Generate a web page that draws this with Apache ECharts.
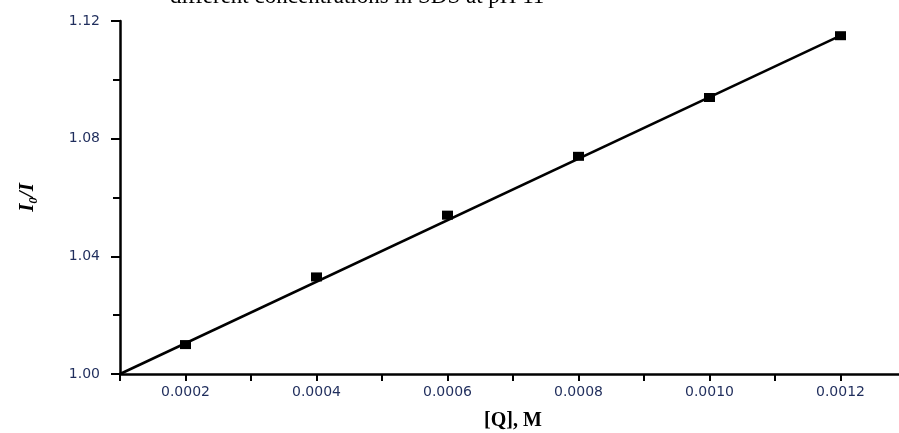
<!DOCTYPE html>
<html lang="en">
<head>
    <meta charset="UTF-8">
    <title>I0/I vs [Q]</title>
    <script src="https://cdn.jsdelivr.net/npm/echarts@6/dist/echarts.min.js"></script>
    <style>
        html, body { margin: 0; padding: 0; background: #fff; }
        #chart { width: 899px; height: 433px; }
    </style>
</head>
<body>
    <div id="chart"></div>
    <script>
        // measured points
        var concQ = [0.0002, 0.0004, 0.0006, 0.0008, 0.0010, 0.0012];
        var ratioI = [1.010, 1.033, 1.054, 1.074, 1.094, 1.115];
        // fitted line ends
        var fitX = [0.0001, 0.0012];
        var fitY = [1.000, 1.115];

        var titleText = "different concentrations in SDS at pH 11";
        var tickColor = "#1f2d5c";

        var chart = echarts.init(document.getElementById("chart"));

        var pts = concQ.map(function (x, i) { return [x, ratioI[i]]; });
        var fit = fitX.map(function (x, i) { return [x, fitY[i]]; });

        var option = {
            animation: false,
            graphic: [{
                type: "text",
                left: 170,
                top: -15,
                style: {
                    text: titleText,
                    font: "23px 'Liberation Serif', 'Times New Roman', serif",
                    fill: "#000"
                }
            }],
            // axis runs on past the right edge, as in the source
            grid: { left: 120, right: -7, top: 21, bottom: 59, outerBoundsMode: "none", containLabel: false },
            xAxis: [{
                type: "value",
                position: "bottom",
                min: 0.0001,
                max: 0.0013,
                interval: 0.0001,
                name: "[Q], M",
                nameLocation: "middle",
                nameGap: 37,
                nameTextStyle: {
                    fontFamily: "Liberation Serif",
                    fontWeight: "bold",
                    fontSize: 20,
                    color: "#000"
                },
                axisLine: { lineStyle: { color: "#000", width: 2.5 } },
                axisTick: {
                    length: 7,
                    lineStyle: { color: "#000", width: 2 },
                    interval: function (idx, val) {
                        return Math.round(val * 10000) % 2 === 0;
                    }
                },
                axisLabel: {
                    margin: 11,
                    fontFamily: "DejaVu Sans",
                    fontSize: 14,
                    color: tickColor,
                    formatter: function (v) {
                        var n = Math.round(v * 10000);
                        if (n % 2 !== 0 || n > 12) return "";
                        return (n / 10000).toFixed(4);
                    }
                },
                splitLine: { show: false }
            }, {
                // short minor ticks
                type: "value",
                position: "bottom",
                min: 0.0001,
                max: 0.0013,
                interval: 0.0001,
                axisLine: { show: false },
                axisTick: { length: 3, lineStyle: { color: "#000", width: 2 } },
                axisLabel: { show: false },
                splitLine: { show: false }
            }],
            yAxis: {
                type: "value",
                min: 1.00,
                max: 1.12,
                interval: 0.04,
                name: "{a|I}{b|0}{a|/I}",
                nameLocation: "middle",
                nameRotate: 90,
                nameGap: 80,
                nameTextStyle: {
                    rich: {
                        a: {
                            fontFamily: "Liberation Serif",
                            fontWeight: "bold",
                            fontStyle: "italic",
                            fontSize: 21,
                            color: "#000"
                        },
                        b: {
                            fontFamily: "Liberation Serif",
                            fontWeight: "bold",
                            fontStyle: "italic",
                            fontSize: 13,
                            color: "#000",
                            verticalAlign: "bottom",
                            padding: [12, 0, 0, 0]
                        }
                    }
                },
                axisLine: { show: true, lineStyle: { color: "#000", width: 2.5 } },
                axisTick: { length: 9, lineStyle: { color: "#000", width: 2 } },
                minorTick: { show: true, splitNumber: 2, length: 7, lineStyle: { color: "#000", width: 2 } },
                axisLabel: {
                    margin: 20,
                    fontFamily: "DejaVu Sans",
                    fontSize: 14,
                    color: tickColor,
                    formatter: function (v) { return v.toFixed(2); }
                },
                splitLine: { show: false }
            },
            series: [{
                type: "line",
                data: fit,
                symbol: "none",
                lineStyle: { color: "#000", width: 2.5 },
                z: 2
            }, {
                type: "scatter",
                data: pts,
                symbol: "rect",
                symbolSize: [11, 9],
                itemStyle: { color: "#000", opacity: 1 },
                z: 3
            }]
        };

        chart.setOption(option);
    </script>
</body>
</html>
